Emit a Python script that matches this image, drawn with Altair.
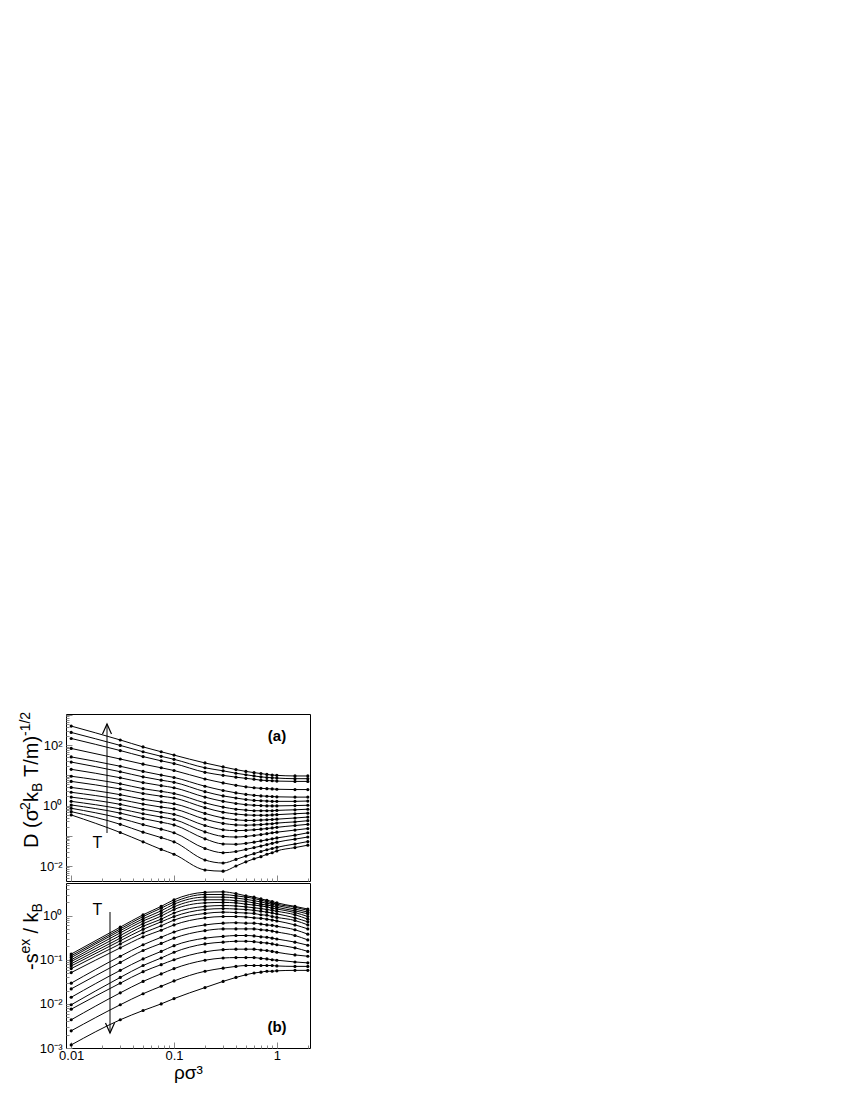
import altair as alt
import pandas as pd

FONT = "Liberation Sans"

# reduced density values (x) at which every curve is sampled
rho = [0.01, 0.03, 0.05, 0.075, 0.1, 0.2, 0.3, 0.4, 0.5, 0.6, 0.7, 0.8, 0.9, 1.0, 1.5, 2.0]

# panel (a): log10 of reduced diffusivity, highest temperature first
log10_D = [
    [2.63, 2.17, 1.94, 1.78, 1.67, 1.41, 1.28, 1.19, 1.13, 1.09, 1.06, 1.03, 1.01, 1.00, 0.98, 0.98],
    [2.42, 1.99, 1.78, 1.63, 1.53, 1.25, 1.15, 1.07, 1.02, 0.98, 0.95, 0.93, 0.92, 0.91, 0.89, 0.89],
    [2.22, 1.82, 1.62, 1.48, 1.39, 1.10, 1.00, 0.94, 0.90, 0.87, 0.84, 0.83, 0.82, 0.81, 0.80, 0.80],
    [1.89, 1.54, 1.37, 1.25, 1.16, 0.88, 0.75, 0.67, 0.62, 0.59, 0.57, 0.56, 0.55, 0.54, 0.53, 0.53],
    [1.61, 1.30, 1.13, 1.01, 0.93, 0.64, 0.50, 0.42, 0.37, 0.34, 0.32, 0.31, 0.30, 0.29, 0.28, 0.28],
    [1.44, 1.12, 0.95, 0.84, 0.77, 0.46, 0.32, 0.25, 0.20, 0.17, 0.16, 0.15, 0.14, 0.14, 0.14, 0.15],
    [1.20, 0.92, 0.76, 0.66, 0.59, 0.28, 0.14, 0.07, 0.03, 0.01, 0.00, -0.01, -0.01, -0.01, 0.00, 0.01],
    [0.97, 0.72, 0.56, 0.47, 0.40, 0.09, -0.05, -0.12, -0.15, -0.17, -0.17, -0.17, -0.17, -0.16, -0.14, -0.12],
    [0.80, 0.55, 0.40, 0.31, 0.25, -0.07, -0.22, -0.28, -0.31, -0.32, -0.32, -0.32, -0.31, -0.30, -0.27, -0.25],
    [0.60, 0.36, 0.21, 0.12, 0.06, -0.26, -0.41, -0.47, -0.49, -0.49, -0.48, -0.47, -0.46, -0.45, -0.41, -0.38],
    [0.44, 0.20, 0.05, -0.05, -0.11, -0.45, -0.59, -0.64, -0.65, -0.64, -0.63, -0.61, -0.60, -0.58, -0.54, -0.50],
    [0.28, 0.04, -0.12, -0.22, -0.29, -0.66, -0.80, -0.83, -0.82, -0.80, -0.78, -0.76, -0.74, -0.72, -0.66, -0.62],
    [0.14, -0.11, -0.27, -0.38, -0.46, -0.87, -1.02, -1.04, -1.02, -0.99, -0.96, -0.93, -0.90, -0.88, -0.81, -0.76],
    [0.02, -0.25, -0.43, -0.55, -0.64, -1.10, -1.27, -1.28, -1.25, -1.21, -1.17, -1.13, -1.10, -1.07, -0.98, -0.90],
    [-0.09, -0.42, -0.63, -0.78, -0.90, -1.42, -1.56, -1.52, -1.45, -1.39, -1.34, -1.29, -1.25, -1.21, -1.11, -1.04],
    [-0.20, -0.62, -0.88, -1.06, -1.20, -1.80, -1.90, -1.78, -1.67, -1.59, -1.52, -1.46, -1.42, -1.38, -1.27, -1.19],
    [-0.31, -0.89, -1.20, -1.45, -1.61, -2.13, -2.17, -2.00, -1.86, -1.76, -1.69, -1.61, -1.56, -1.50, -1.39, -1.31],
]

# panel (b): log10 of -s_ex/k_B, lowest temperature first
log10_S = [
    [-0.87, -0.26, 0.02, 0.21, 0.36, 0.53, 0.54, 0.50, 0.45, 0.42, 0.38, 0.35, 0.32, 0.29, 0.21, 0.15],
    [-0.91, -0.30, -0.02, 0.17, 0.31, 0.48, 0.48, 0.45, 0.42, 0.39, 0.35, 0.32, 0.29, 0.26, 0.19, 0.12],
    [-0.95, -0.34, -0.07, 0.11, 0.26, 0.42, 0.42, 0.40, 0.37, 0.34, 0.31, 0.28, 0.26, 0.23, 0.15, 0.08],
    [-1.00, -0.39, -0.12, 0.05, 0.20, 0.36, 0.36, 0.34, 0.32, 0.29, 0.26, 0.24, 0.22, 0.19, 0.11, 0.04],
    [-1.04, -0.45, -0.18, -0.01, 0.14, 0.29, 0.30, 0.29, 0.26, 0.24, 0.22, 0.20, 0.17, 0.15, 0.07, -0.02],
    [-1.09, -0.51, -0.24, -0.08, 0.06, 0.21, 0.23, 0.22, 0.20, 0.18, 0.16, 0.14, 0.12, 0.10, 0.02, -0.08],
    [-1.14, -0.57, -0.31, -0.14, -0.02, 0.14, 0.16, 0.15, 0.14, 0.12, 0.10, 0.08, 0.06, 0.04, -0.05, -0.14],
    [-1.20, -0.64, -0.39, -0.23, -0.10, 0.05, 0.08, 0.07, 0.06, 0.05, 0.02, 0.01, -0.02, -0.04, -0.11, -0.21],
    [-1.29, -0.73, -0.48, -0.33, -0.21, -0.05, -0.02, -0.02, -0.03, -0.05, -0.06, -0.08, -0.10, -0.12, -0.21, -0.30],
    [-1.53, -0.92, -0.66, -0.49, -0.37, -0.21, -0.17, -0.16, -0.17, -0.17, -0.19, -0.21, -0.22, -0.24, -0.32, -0.42],
    [-1.66, -1.06, -0.79, -0.63, -0.51, -0.34, -0.30, -0.30, -0.30, -0.30, -0.32, -0.33, -0.35, -0.37, -0.45, -0.55],
    [-1.85, -1.24, -0.98, -0.81, -0.68, -0.51, -0.47, -0.45, -0.45, -0.46, -0.48, -0.49, -0.51, -0.53, -0.60, -0.67],
    [-2.02, -1.40, -1.13, -0.96, -0.83, -0.64, -0.60, -0.58, -0.58, -0.59, -0.61, -0.62, -0.64, -0.66, -0.73, -0.81],
    [-2.12, -1.53, -1.27, -1.11, -1.00, -0.82, -0.77, -0.76, -0.76, -0.76, -0.78, -0.79, -0.81, -0.83, -0.89, -0.92],
    [-2.36, -1.75, -1.49, -1.32, -1.20, -1.01, -0.96, -0.95, -0.95, -0.95, -0.97, -0.98, -1.00, -1.01, -1.05, -1.07],
    [-2.61, -2.02, -1.77, -1.60, -1.48, -1.26, -1.19, -1.15, -1.13, -1.13, -1.13, -1.13, -1.13, -1.14, -1.15, -1.15],
    [-2.93, -2.36, -2.15, -2.00, -1.88, -1.63, -1.49, -1.40, -1.34, -1.30, -1.28, -1.26, -1.26, -1.25, -1.24, -1.24],
]

x_tick_labels = ["0.01", "0.1", "1"]
ya_tick_labels = ["10⁻²", "10⁰", "10²"]
yb_tick_labels = ["10⁻³", "10⁻²", "10⁻¹", "10⁰"]


def frame(table):
    rows = []
    for k, series in enumerate(table):
        for x, v in zip(rho, series):
            rows.append({"rho": x, "val": 10 ** v, "curve": k})
    return pd.DataFrame(rows)


W, HA, HB = 244, 167, 165
XDOM = [0.0089, 2.1]
YDOM_A = [0.0032, 1070]
YDOM_B = [0.001, 5.5]

x_major = [0.01, 0.1, 1]
x_minor = [m * d for d in (0.01, 0.1) for m in range(2, 10)] + [2]


def minors(lo, hi, e0, e1):
    return [m * 10.0 ** e for e in range(e0, e1 + 1) for m in range(2, 10)
            if lo <= m * 10.0 ** e <= hi]


def one():
    return pd.DataFrame({"k": [0]})


def txt(text, x, y, size, angle=0, weight="normal", align="center", baseline="middle"):
    return alt.Chart(one()).mark_text(
        text=text, font=FONT, fontSize=size, fontWeight=weight, angle=angle,
        align=align, baseline=baseline, color="black"
    ).encode(x=alt.value(x), y=alt.value(y))


def vtxt(text, x, y, size):
    return txt(text, x, y, size, angle=270, align="left", baseline="alphabetic")


def panel(df, ydom, H, ymajor, yminor, ylab_vals, ylab_text, show_x, annots):
    xs = alt.Scale(type="log", domain=XDOM, nice=False)
    ys = alt.Scale(type="log", domain=ydom, nice=False)

    x_lab_expr = ("datum.value < 0.05 ? '%s' : datum.value < 0.5 ? '%s' : '%s'"
                  % tuple(x_tick_labels))
    if show_x:
        x_lab_axis = alt.Axis(orient="bottom", values=x_major, labelExpr=x_lab_expr,
                              ticks=False, tickSize=0, domain=False, grid=False,
                              labelFontSize=13, labelPadding=1, labelFlush=False,
                              title="ρσ³", titleFontSize=19, titleFontWeight="normal",
                              titlePadding=1)
    else:
        x_lab_axis = None

    expr = "'%s'" % ylab_text[-1]
    for v, t in reversed(list(zip(ylab_vals[:-1], ylab_text[:-1]))):
        expr = "datum.value < %g ? '%s' : %s" % (v * 3.0, t, expr)

    y_lab_axis = alt.Axis(orient="left", values=ylab_vals, labelExpr=expr,
                          ticks=False, tickSize=0, domain=False, grid=False,
                          labelFontSize=13, labelPadding=4, title=None)

    base = alt.Chart(df)
    lines = base.mark_line(color="black", strokeWidth=1, interpolate="monotone").encode(
        x=alt.X("rho:Q", scale=xs, axis=x_lab_axis),
        y=alt.Y("val:Q", scale=ys, axis=y_lab_axis),
        detail="curve:N",
    )
    pts = base.mark_circle(color="black", size=10, opacity=1).encode(
        x=alt.X("rho:Q", scale=xs,
                axis=alt.Axis(orient="top", offset=-H, values=x_major, labels=False,
                              domain=False, grid=False, tickSize=6, title=None)),
        y=alt.Y("val:Q", scale=ys,
                axis=alt.Axis(orient="right", offset=-W, values=ymajor, labels=False,
                              domain=False, grid=False, tickSize=6, title=None)),
    )
    ghost = base.mark_circle(opacity=0, size=1).encode(
        x=alt.X("rho:Q", scale=xs,
                axis=alt.Axis(orient="top", offset=-H, values=x_minor, labels=False,
                              domain=False, grid=False, tickSize=3, title=None)),
        y=alt.Y("val:Q", scale=ys,
                axis=alt.Axis(orient="right", offset=-W, values=yminor, labels=False,
                              domain=False, grid=False, tickSize=3, title=None)),
    )
    return alt.layer(lines, pts, ghost, *annots).resolve_axis(
        x="independent", y="independent").properties(
        width=W, height=H,
        view=alt.ViewBackground(stroke="black", strokeWidth=1, strokeOpacity=1))


def arrow(x, y_tail, y_tip, up):
    rule = alt.Chart(one()).mark_rule(color="black", strokeWidth=1).encode(
        x=alt.value(x), y=alt.value(y_tip), y2=alt.value(y_tail))
    path = "M -1 2.2 L 0 0 L 1 2.2" if up else "M -1 -2.2 L 0 0 L 1 -2.2"
    head = alt.Chart(one()).mark_point(shape=path, filled=False, color="black",
                                       strokeWidth=1.2, size=81, opacity=1).encode(
        x=alt.value(x), y=alt.value(y_tip))
    return [rule, head]


TX = -28
annots_a = (
    arrow(41, 119, 10, True)
    + [
        txt("T", 31.5, 129, 16),
        txt("(a)", 211, 22, 15, weight="bold"),
        vtxt("D (σ", TX, 134, 20),
        vtxt("2", TX - 8, 96, 14),
        vtxt("k", TX, 88, 20),
        vtxt("B", TX + 4, 78, 14),
        vtxt("T/m)", TX, 63, 20),
        vtxt("-1/2", TX - 8, 22, 14),
    ]
)
annots_b = (
    arrow(44, 29, 150, False)
    + [
        txt("T", 31.5, 27, 16),
        txt("(b)", 211, 144, 15, weight="bold"),
        vtxt("-s", TX, 87, 20),
        vtxt("ex", TX - 8, 70.5, 14),
        vtxt("/ k", TX, 50.5, 20),
        vtxt("B", TX + 4, 29.5, 14),
    ]
)

top = panel(frame(log10_D), YDOM_A, HA,
            [10.0 ** e for e in range(-2, 4)], minors(YDOM_A[0], YDOM_A[1], -3, 2),
            [0.01, 1, 100], ya_tick_labels, False, annots_a)
bottom = panel(frame(log10_S), YDOM_B, HB,
               [10.0 ** e for e in range(-3, 1)], minors(YDOM_B[0], YDOM_B[1], -3, 0),
               [0.001, 0.01, 0.1, 1], yb_tick_labels, True, annots_b)

chart = alt.vconcat(top, bottom, spacing=0).properties(
    padding={"left": 10, "top": 703, "right": 5, "bottom": 5}
).configure_view(stroke="black", strokeWidth=1).configure_axis(
    grid=False, labelFont=FONT, titleFont=FONT, labelColor="black",
    titleColor="black", tickColor="black", tickWidth=1
).configure(font=FONT)

chart.save("out.html", embed_options={"renderer": "svg", "actions": False})
